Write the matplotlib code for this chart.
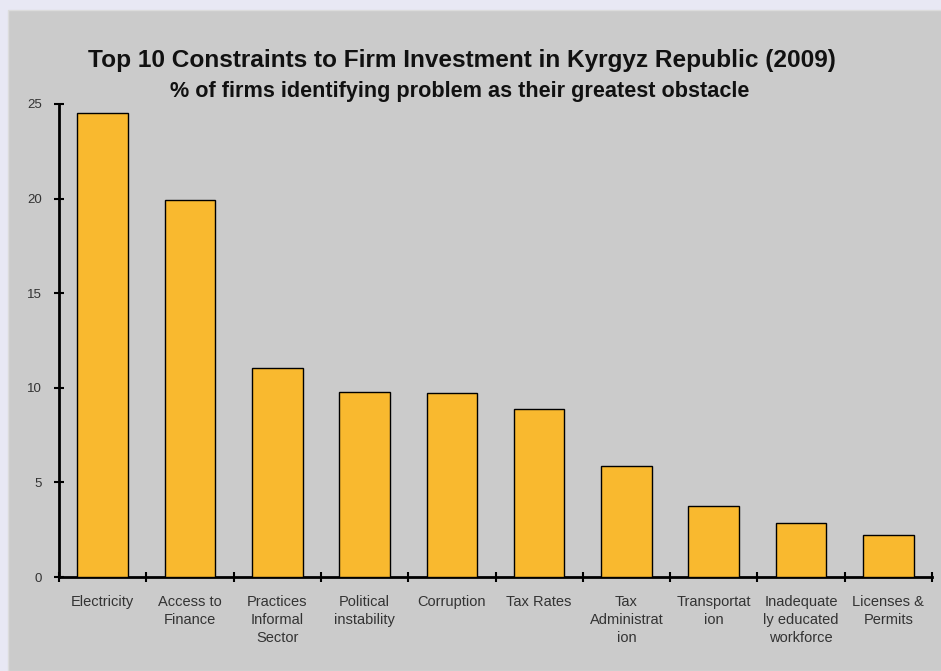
import numpy as np
import matplotlib.pyplot as plt
from matplotlib.patches import Rectangle

categories = ["Electricity", "Access to\nFinance", "Practices\nInformal\nSector", "Political\ninstability",
              "Corruption", "Tax Rates", "Tax\nAdministrat\nion", "Transportat\nion",
              "Inadequate\nly educated\nworkforce", "Licenses &\nPermits"]
values = [24.5, 19.9, 11.05, 9.78, 9.7, 8.9, 5.87, 3.75, 2.85, 2.2]
yticks = [0, 5, 10, 15, 20, 25]

plt.rcParams['font.family'] = ['Liberation Sans', 'DejaVu Sans']

fig = plt.figure(figsize=(9.41, 6.71), dpi=100)
fig.patch.set_facecolor('#e8e8f4')
# grey chart area, kept behind the axes
bg = Rectangle((8 / 941, 0), 1, 1 - 10 / 671, transform=fig.transFigure,
               facecolor='#cbcbcb', edgecolor='#dcdcdc', lw=1, zorder=-10)
fig.add_artist(bg)

ax = fig.add_axes([59 / 941, 94 / 671, 873 / 941, 473 / 671])
ax.set_facecolor('none')
ax.set_zorder(1)

x = np.arange(len(categories))
ax.bar(x, values, width=0.58, color='#f9b92f', edgecolor='black', linewidth=1, zorder=3)

ax.set_xlim(-0.5, len(categories) - 0.5)
ax.set_ylim(0, 25)
ax.set_yticks(yticks)
ax.set_yticklabels([str(t) for t in yticks], fontsize=9.5, color='#333333')
ax.tick_params(axis='y', direction='inout', length=7, width=1.5, pad=9)

# category labels centred under bars, ticks at boundaries
ax.set_xticks(np.arange(len(categories) + 1) - 0.5)
ax.set_xticklabels([])
ax.tick_params(axis='x', direction='inout', length=7, width=1.5)
for i, lab in enumerate(categories):
    ax.text(i, -0.95, lab, ha='center', va='top', fontsize=10.5, color='#333333',
            linespacing=1.35, clip_on=False)

for side in ['top', 'right']:
    ax.spines[side].set_visible(False)
ax.spines['left'].set_linewidth(2)
ax.spines['bottom'].set_linewidth(2)

fig.text(462 / 941, 1 - 60 / 671, "Top 10 Constraints to Firm Investment in Kyrgyz Republic (2009)",
         ha='center', va='center', fontsize=17.6, fontweight='bold', color='#111111')
fig.text(460 / 941, 1 - 91 / 671, "% of firms identifying problem as their greatest obstacle",
         ha='center', va='center', fontsize=15.6, fontweight='bold', color='#111111')

fig.savefig('out.png', dpi=100, facecolor=fig.get_facecolor())
